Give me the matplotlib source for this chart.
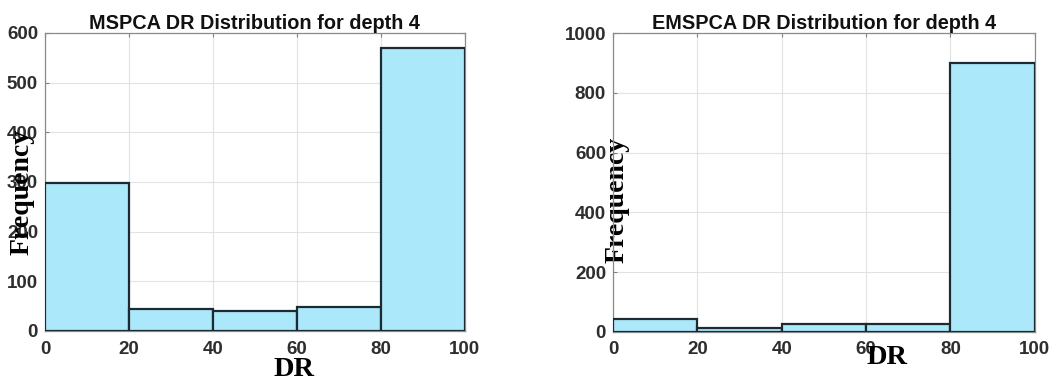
import numpy as np
import matplotlib
matplotlib.use('Agg')
from matplotlib import pyplot as plt

# ---------------- histogram data (counts per DR bin) ----------------
BIN_EDGES = [0, 20, 40, 60, 80, 100]
MSPCA_COUNTS = [297, 44, 41, 48, 570]
EMSPCA_COUNTS = [43, 13, 26, 25, 900]
TITLES = ['MSPCA DR Distribution for depth 4', 'EMSPCA DR Distribution for depth 4']
YLIMS = [600, 1000]
YSTEPS = [100, 200]

FACE = '#abe8fa'
EDGE = '#1e2a32'
TICK_COLOR = '#2e2e2e'

fig = plt.figure(figsize=(10.57, 3.83), dpi=100)
ax_left = fig.add_axes([0.0426, 0.136, 0.397, 0.778])
ax_right = fig.add_axes([0.580, 0.134, 0.399, 0.779])

# label positions in axes coords (x, y) for DR and Frequency
xlab_pos = [(0.593, -0.131), (0.650, -0.085)]
ylab_pos = [(-0.055, 0.466), (0.009, 0.441)]

for i, (axis, counts) in enumerate(zip([ax_left, ax_right], [MSPCA_COUNTS, EMSPCA_COUNTS])):
  edges = np.array(BIN_EDGES)
  axis.bar(edges[:-1], counts, width=np.diff(edges), align='edge',
           facecolor=FACE, edgecolor=EDGE, linewidth=1.6, zorder=3)
  axis.set_xlim(0, 100)
  axis.set_ylim(0, YLIMS[i])
  axis.set_xticks(BIN_EDGES)
  axis.set_yticks(np.arange(0, YLIMS[i] + 1, YSTEPS[i]))
  axis.grid(True, color='#e2e2e2', linewidth=0.8, zorder=0)
  axis.tick_params(direction='in', length=3, width=0.8, color='#808080',
                   top=True, right=True, labelsize=13.5, labelcolor=TICK_COLOR)
  axis.tick_params(axis='x', pad=7)
  axis.tick_params(axis='y', pad=5)
  for lbl in axis.get_xticklabels() + axis.get_yticklabels():
    lbl.set_fontweight('bold')
    lbl.set_family('Liberation Sans')
  for sp in axis.spines.values():
    sp.set_color('#8a8a8a')
    sp.set_linewidth(0.9)
  axis.set_title(TITLES[i], fontsize=14.3, fontweight='bold', family='Liberation Sans',
                 color='#111111', pad=3)
  axis.set_xlabel('DR', fontsize=20.5, fontweight='bold', family='Liberation Serif', va='center')
  axis.xaxis.set_label_coords(*xlab_pos[i])
  axis.set_ylabel('Frequency', fontsize=20, fontweight='bold', family='Liberation Serif', va='center')
  axis.yaxis.set_label_coords(*ylab_pos[i])

fig.savefig('out.png', dpi=100)
